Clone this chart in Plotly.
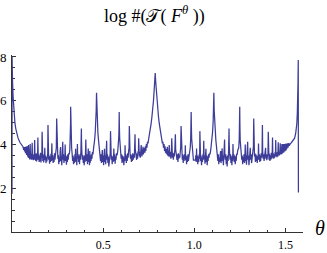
import plotly.graph_objects as go

# theta (radians) and log #(T(F^theta))
theta = [
    0.0000, 0.0004, 0.0025, 0.0060, 0.0100, 0.0154, 0.0200, 0.0250, 0.0330, 0.0430,
    0.0520, 0.0600, 0.0640, 0.0666, 0.0690, 0.0713, 0.0740, 0.0768, 0.0800, 0.0831,
    0.0860, 0.0880, 0.0895, 0.0907, 0.0925, 0.0950, 0.0970, 0.0997, 0.1015, 0.1040,
    0.1060, 0.1085, 0.1107, 0.1125, 0.1150, 0.1170, 0.1200, 0.1220, 0.1244, 0.1262,
    0.1285, 0.1305, 0.1330, 0.1350, 0.1375, 0.1400, 0.1419, 0.1440, 0.1465, 0.1490,
    0.1515, 0.1540, 0.1565, 0.1590, 0.1615, 0.1635, 0.1651, 0.1668, 0.1690, 0.1710,
    0.1735, 0.1760, 0.1780, 0.1799, 0.1815, 0.1840, 0.1865, 0.1890, 0.1915, 0.1940,
    0.1958, 0.1974, 0.1990, 0.2010, 0.2035, 0.2060, 0.2085, 0.2110, 0.2135, 0.2160,
    0.2187, 0.2205, 0.2230, 0.2255, 0.2280, 0.2305, 0.2330, 0.2355, 0.2380, 0.2410,
    0.2430, 0.2450, 0.2470, 0.2490, 0.2515, 0.2540, 0.2565, 0.2590, 0.2615, 0.2640,
    0.2663, 0.2680, 0.2705, 0.2730, 0.2755, 0.2783, 0.2800, 0.2825, 0.2850, 0.2875,
    0.2895, 0.2915, 0.2935, 0.2960, 0.2985, 0.3010, 0.3035, 0.3060, 0.3085, 0.3110,
    0.3140, 0.3170, 0.3195, 0.3210, 0.3218, 0.3228, 0.3245, 0.3270, 0.3300, 0.3325,
    0.3350, 0.3375, 0.3400, 0.3425, 0.3450, 0.3470, 0.3488, 0.3505, 0.3530, 0.3555,
    0.3575, 0.3588, 0.3605, 0.3630, 0.3655, 0.3680, 0.3705, 0.3730, 0.3755, 0.3780,
    0.3795, 0.3805, 0.3815, 0.3835, 0.3860, 0.3885, 0.3910, 0.3935, 0.3960, 0.3985,
    0.4010, 0.4030, 0.4049, 0.4065, 0.4090, 0.4115, 0.4140, 0.4165, 0.4182, 0.4200,
    0.4225, 0.4250, 0.4266, 0.4285, 0.4310, 0.4335, 0.4360, 0.4385, 0.4410, 0.4440,
    0.4470, 0.4500, 0.4530, 0.4565, 0.4595, 0.4618, 0.4636, 0.4654, 0.4677, 0.4710,
    0.4745, 0.4775, 0.4805, 0.4830, 0.4855, 0.4880, 0.4905, 0.4930, 0.4955, 0.4975,
    0.5000, 0.5025, 0.5050, 0.5071, 0.5090, 0.5115, 0.5140, 0.5165, 0.5191, 0.5210,
    0.5235, 0.5260, 0.5285, 0.5310, 0.5335, 0.5360, 0.5385, 0.5404, 0.5420, 0.5445,
    0.5470, 0.5495, 0.5520, 0.5545, 0.5570, 0.5586, 0.5605, 0.5630, 0.5655, 0.5680,
    0.5705, 0.5730, 0.5760, 0.5800, 0.5830, 0.5855, 0.5870, 0.5880, 0.5890, 0.5905,
    0.5930, 0.5960, 0.5985, 0.6010, 0.6035, 0.6060, 0.6085, 0.6110, 0.6135, 0.6160,
    0.6185, 0.6202, 0.6220, 0.6245, 0.6270, 0.6295, 0.6320, 0.6345, 0.6370, 0.6395,
    0.6420, 0.6435, 0.6450, 0.6475, 0.6500, 0.6525, 0.6550, 0.6575, 0.6600, 0.6625,
    0.6650, 0.6680, 0.6710, 0.6735, 0.6747, 0.6760, 0.6785, 0.6810, 0.6835, 0.6860,
    0.6885, 0.6910, 0.6935, 0.6947, 0.6960, 0.6985, 0.7010, 0.7035, 0.7060, 0.7086,
    0.7100, 0.7125, 0.7150, 0.7170, 0.7188, 0.7205, 0.7225, 0.7245, 0.7270, 0.7290,
    0.7315, 0.7340, 0.7370, 0.7400, 0.7430, 0.7460, 0.7500, 0.7540, 0.7584, 0.7630,
    0.7674, 0.7720, 0.7764, 0.7820, 0.7854, 0.7888, 0.7944, 0.7988, 0.8034, 0.8078,
    0.8124, 0.8168, 0.8208, 0.8248, 0.8278, 0.8308, 0.8338, 0.8368, 0.8393, 0.8418,
    0.8442, 0.8463, 0.8483, 0.8503, 0.8520, 0.8538, 0.8558, 0.8583, 0.8605, 0.8622,
    0.8640, 0.8665, 0.8690, 0.8715, 0.8740, 0.8761, 0.8778, 0.8800, 0.8825, 0.8850,
    0.8875, 0.8900, 0.8930, 0.8961, 0.8975, 0.9000, 0.9025, 0.9050, 0.9075, 0.9100,
    0.9125, 0.9150, 0.9175, 0.9200, 0.9250, 0.9273, 0.9290, 0.9315, 0.9340, 0.9365,
    0.9390, 0.9415, 0.9440, 0.9465, 0.9490, 0.9505, 0.9525, 0.9550, 0.9575, 0.9600,
    0.9625, 0.9650, 0.9675, 0.9700, 0.9723, 0.9745, 0.9775, 0.9800, 0.9818, 0.9828,
    0.9838, 0.9855, 0.9880, 0.9905, 0.9930, 0.9950, 1.0060, 1.0080, 1.0105, 1.0122,
    1.0140, 1.0165, 1.0190, 1.0215, 1.0240, 1.0265, 1.0290, 1.0304, 1.0320, 1.0345,
    1.0370, 1.0395, 1.0420, 1.0445, 1.0470, 1.0495, 1.0517, 1.0535, 1.0560, 1.0585,
    1.0610, 1.0637, 1.0655, 1.0680, 1.0705, 1.0730, 1.0755, 1.0780, 1.0805, 1.0830,
    1.0860, 1.0900, 1.0930, 1.0963, 1.0998, 1.1031, 1.1054, 1.1071, 1.1090, 1.1113,
    1.1145, 1.1180, 1.1210, 1.1240, 1.1265, 1.1290, 1.1315, 1.1340, 1.1365, 1.1390,
    1.1415, 1.1442, 1.1465, 1.1490, 1.1526, 1.1545, 1.1570, 1.1595, 1.1620, 1.1640,
    1.1659, 1.1675, 1.1700, 1.1725, 1.1750, 1.1775, 1.1800, 1.1825, 1.1850, 1.1875,
    1.1895, 1.1903, 1.1913, 1.1935, 1.1960, 1.1985, 1.2010, 1.2035, 1.2060, 1.2085,
    1.2105, 1.2120, 1.2140, 1.2165, 1.2190, 1.2220, 1.2245, 1.2270, 1.2295, 1.2320,
    1.2350, 1.2385, 1.2435, 1.2463, 1.2480, 1.2490, 1.2500, 1.2515, 1.2545, 1.2570,
    1.2600, 1.2625, 1.2650, 1.2675, 1.2700, 1.2723, 1.2750, 1.2773, 1.2793, 1.2810,
    1.2835, 1.2860, 1.2885, 1.2905, 1.2925, 1.2945, 1.2970, 1.2995, 1.3020, 1.3045,
    1.3068, 1.3090, 1.3115, 1.3140, 1.3165, 1.3190, 1.3215, 1.3240, 1.3258, 1.3278,
    1.3300, 1.3325, 1.3350, 1.3375, 1.3400, 1.3425, 1.3450, 1.3475, 1.3500, 1.3521,
    1.3540, 1.3565, 1.3590, 1.3615, 1.3640, 1.3665, 1.3690, 1.3715, 1.3734, 1.3750,
    1.3775, 1.3800, 1.3825, 1.3850, 1.3870, 1.3909, 1.3925, 1.3950, 1.3975, 1.4000,
    1.4020, 1.4040, 1.4056, 1.4072, 1.4095, 1.4120, 1.4145, 1.4170, 1.4195, 1.4220,
    1.4245, 1.4270, 1.4289, 1.4308, 1.4330, 1.4355, 1.4380, 1.4405, 1.4430, 1.4448,
    1.4464, 1.4480, 1.4505, 1.4530, 1.4555, 1.4580, 1.4601, 1.4618, 1.4640, 1.4665,
    1.4690, 1.4711, 1.4728, 1.4750, 1.4775, 1.4801, 1.4820, 1.4845, 1.4860, 1.4877,
    1.4900, 1.4920, 1.4940, 1.4960, 1.4995, 1.5015, 1.5042, 1.5062, 1.5084, 1.5100,
    1.5120, 1.5136, 1.5153, 1.5168, 1.5182, 1.5200, 1.5230, 1.5280, 1.5320, 1.5400,
    1.5500, 1.5560, 1.5590, 1.5620, 1.5648, 1.5670, 1.5685, 1.5700, 1.5708,
]

log_count = [
    1.75, 8.00, 7.00, 6.20, 5.50, 5.05, 4.75, 4.55, 4.30, 4.10,
    3.97, 3.90, 3.75, 3.88, 3.68, 3.88, 3.60, 3.90, 3.52, 3.93,
    3.45, 3.62, 3.40, 3.98, 3.38, 3.60, 3.32, 4.02, 3.35, 3.58,
    3.30, 3.50, 4.08, 3.32, 3.55, 3.28, 3.48, 3.30, 4.20, 3.30,
    3.52, 3.25, 3.60, 3.22, 3.45, 3.30, 4.32, 3.30, 3.55, 3.20,
    3.48, 3.24, 3.62, 3.18, 3.50, 3.40, 4.58, 3.45, 3.25, 3.55,
    3.18, 3.45, 3.30, 3.85, 3.28, 3.50, 3.15, 3.42, 3.22, 3.55,
    3.60, 4.89, 3.65, 3.30, 3.50, 3.12, 3.45, 3.20, 3.58, 3.25,
    4.05, 3.28, 3.52, 3.15, 3.45, 3.20, 3.60, 3.30, 3.55, 3.45,
    3.85, 5.19, 3.90, 3.55, 3.35, 3.52, 3.10, 3.42, 3.20, 3.65,
    3.88, 3.25, 3.50, 3.05, 3.40, 4.12, 3.30, 3.55, 3.15, 3.45,
    3.25, 4.00, 3.25, 3.50, 3.08, 3.45, 3.20, 3.55, 3.30, 3.60,
    3.55, 3.75, 4.20, 4.90, 5.72, 4.95, 4.25, 3.85, 3.55, 3.25,
    3.50, 3.10, 3.40, 3.15, 3.55, 3.25, 3.80, 3.20, 3.45, 3.05,
    3.50, 4.02, 3.35, 3.55, 3.20, 3.48, 3.10, 3.55, 3.30, 3.70,
    4.05, 4.73, 4.05, 3.60, 3.30, 3.52, 3.15, 3.45, 3.05, 3.50,
    3.20, 3.60, 4.23, 3.50, 3.25, 3.55, 3.10, 3.45, 3.82, 3.20,
    3.50, 3.05, 3.70, 3.15, 3.50, 3.25, 3.55, 3.35, 3.65, 3.55,
    3.80, 3.95, 4.20, 4.55, 5.00, 5.55, 6.36, 5.55, 5.00, 4.55,
    4.20, 3.95, 3.70, 3.50, 3.25, 3.55, 3.15, 3.45, 3.75, 3.20,
    3.50, 3.05, 3.45, 3.80, 3.20, 3.50, 3.10, 3.45, 4.17, 3.30,
    3.55, 3.15, 3.45, 3.00, 3.40, 3.20, 3.60, 4.61, 3.60, 3.30,
    3.50, 3.10, 3.45, 3.20, 3.40, 3.82, 3.25, 3.55, 3.12, 3.45,
    3.30, 3.60, 3.50, 3.70, 3.95, 4.30, 4.80, 5.48, 4.80, 4.30,
    3.90, 3.60, 3.35, 3.55, 3.15, 3.50, 3.20, 3.45, 3.05, 3.40,
    3.25, 3.97, 3.30, 3.55, 3.15, 3.48, 3.25, 3.60, 3.40, 3.70,
    3.85, 4.84, 3.90, 3.60, 3.35, 3.55, 3.20, 3.50, 3.25, 3.60,
    3.30, 3.55, 3.40, 3.75, 4.47, 3.80, 3.45, 3.60, 3.30, 3.58,
    3.35, 3.65, 3.70, 4.28, 3.75, 3.45, 3.65, 3.40, 3.68, 3.97,
    3.70, 3.45, 3.72, 3.50, 3.90, 3.55, 3.78, 3.58, 3.85, 3.62,
    3.92, 3.70, 4.02, 3.85, 4.12, 4.05, 4.28, 4.45, 4.67, 4.95,
    5.27, 5.62, 6.04, 6.80, 7.27, 6.80, 6.04, 5.62, 5.27, 4.95,
    4.67, 4.45, 4.28, 4.05, 4.12, 3.85, 4.02, 3.70, 3.92, 3.62,
    3.80, 3.58, 3.78, 3.55, 3.90, 3.50, 3.72, 3.45, 3.70, 3.97,
    3.72, 3.42, 3.65, 3.35, 3.60, 4.28, 3.70, 3.40, 3.62, 3.30,
    3.58, 3.45, 3.75, 4.47, 3.78, 3.45, 3.60, 3.30, 3.55, 3.20,
    3.60, 3.35, 3.50, 3.40, 3.85, 4.84, 3.85, 3.60, 3.30, 3.55,
    3.15, 3.50, 3.25, 3.55, 3.35, 3.97, 3.28, 3.50, 3.10, 3.45,
    3.20, 3.55, 3.25, 3.40, 3.65, 3.55, 3.85, 4.25, 4.80, 5.48,
    4.80, 4.25, 3.85, 3.55, 3.30, 3.28, 3.28, 3.50, 3.20, 3.82,
    3.25, 3.50, 3.10, 3.45, 3.20, 3.55, 3.35, 4.61, 3.55, 3.25,
    3.50, 3.05, 3.40, 3.20, 3.55, 3.30, 4.17, 3.35, 3.50, 3.12,
    3.45, 3.80, 3.20, 3.50, 3.05, 3.45, 3.25, 3.55, 3.40, 3.60,
    3.55, 3.75, 3.95, 4.20, 4.55, 5.00, 5.55, 6.36, 5.55, 5.00,
    4.55, 4.20, 3.95, 3.70, 3.50, 3.25, 3.55, 3.10, 3.40, 3.20,
    3.50, 3.70, 3.15, 3.45, 3.82, 3.25, 3.50, 3.05, 3.45, 3.30,
    4.23, 3.55, 3.30, 3.55, 3.10, 3.45, 3.00, 3.50, 3.25, 3.60,
    4.05, 4.73, 4.05, 3.60, 3.30, 3.55, 3.15, 3.45, 3.05, 3.50,
    3.25, 4.02, 3.35, 3.55, 3.20, 3.50, 3.10, 3.45, 3.25, 3.55,
    3.55, 3.75, 3.85, 4.25, 4.95, 5.72, 4.90, 4.20, 3.85, 3.55,
    3.30, 3.50, 3.10, 3.42, 3.20, 3.55, 3.15, 3.45, 4.00, 3.25,
    3.50, 3.08, 3.45, 3.25, 4.12, 3.30, 3.50, 3.05, 3.40, 3.25,
    3.85, 3.30, 3.55, 3.15, 3.45, 3.30, 3.60, 3.90, 5.19, 3.85,
    3.45, 3.60, 3.20, 3.55, 3.25, 3.50, 3.15, 3.45, 3.30, 4.05,
    3.30, 3.55, 3.20, 3.50, 3.25, 3.60, 3.40, 3.65, 4.89, 3.65,
    3.35, 3.55, 3.25, 3.50, 3.30, 3.85, 3.35, 3.55, 3.28, 3.50,
    3.35, 3.60, 4.58, 3.55, 3.30, 3.58, 3.25, 3.50, 3.30, 3.62,
    3.35, 3.55, 4.32, 3.40, 3.60, 3.35, 3.55, 3.40, 3.65, 3.50,
    4.20, 3.45, 3.62, 3.42, 3.65, 3.45, 4.10, 3.50, 3.68, 3.50,
    3.70, 4.05, 3.55, 3.75, 3.55, 4.02, 3.58, 3.78, 3.62, 4.02,
    3.62, 3.80, 4.02, 3.68, 4.03, 3.72, 4.04, 3.78, 4.05, 3.82,
    4.05, 3.86, 4.06, 3.90, 4.06, 3.94, 4.02, 4.05, 4.08, 4.18,
    4.29, 4.52, 4.67, 4.95, 5.43, 6.00, 6.80, 7.86, 1.80,
]

x_tick_vals = [0.5, 1.0, 1.5]
x_tick_text = ["0.5", "1.0", "1.5"]
y_tick_vals = [2, 4, 6, 8]
y_tick_text = ["2", "4", "6", "8"]

assert len(theta) == len(log_count)

LINE = "rgb(61,61,153)"
AX = "#333333"
SERIF = "Liberation Serif, Times New Roman, serif"

fig = go.Figure()
fig.add_trace(go.Scatter(
    x=theta, y=log_count, mode="lines",
    line=dict(color=LINE, width=1.25), cliponaxis=False, hoverinfo="skip",
))

fig.update_layout(
    width=327, height=253,
    margin=dict(l=12, r=24, t=55, b=21),
    paper_bgcolor="white", plot_bgcolor="white",
    showlegend=False,
    font=dict(family=SERIF, size=13, color="black"),
)
fig.update_xaxes(
    range=[0, 1.596], showgrid=False, zeroline=False,
    showline=True, linecolor=AX, linewidth=1,
    tickmode="array", tickvals=x_tick_vals, ticktext=x_tick_text,
    tickfont=dict(family=SERIF, size=12, color="black"),
    ticks="inside", ticklen=4, tickcolor=AX, tickwidth=1,
    minor=dict(tickmode="linear", tick0=0, dtick=0.1, ticks="inside",
               ticklen=2.5, tickcolor=AX, tickwidth=1),
    ticklabelstandoff=2, layer="below traces", automargin=False,
    fixedrange=True,
)
fig.update_yaxes(
    range=[0, 8.09], showgrid=False, zeroline=False,
    showline=True, linecolor=AX, linewidth=1,
    tickmode="array", tickvals=y_tick_vals, ticktext=y_tick_text,
    ticks="inside", ticklen=4, tickcolor=AX, tickwidth=1,
    minor=dict(tickmode="linear", tick0=0, dtick=0.5, ticks="inside",
               ticklen=2.5, tickcolor=AX, tickwidth=1),
    ticklabelstandoff=2, layer="below traces", automargin=False,
    fixedrange=True,
)

fig.add_annotation(
    text="log #(\U0001D4AF( <i>F</i><sup><i>θ</i></sup> ))",
    xref="paper", yref="paper", x=0.49, y=1.224,
    xanchor="center", yanchor="middle", showarrow=False,
    font=dict(family=SERIF, size=18, color="black"),
)
fig.add_annotation(
    text="<i>θ</i>", xref="paper", yref="paper", x=1.058, y=0.02,
    xanchor="center", yanchor="middle", showarrow=False,
    font=dict(family=SERIF, size=20, color="black"),
)

fig.write_html(
    "out.html",
    config={"displayModeBar": False, "staticPlot": True},
    post_script="document.body.style.margin='0';document.body.style.overflow='hidden';",
)
